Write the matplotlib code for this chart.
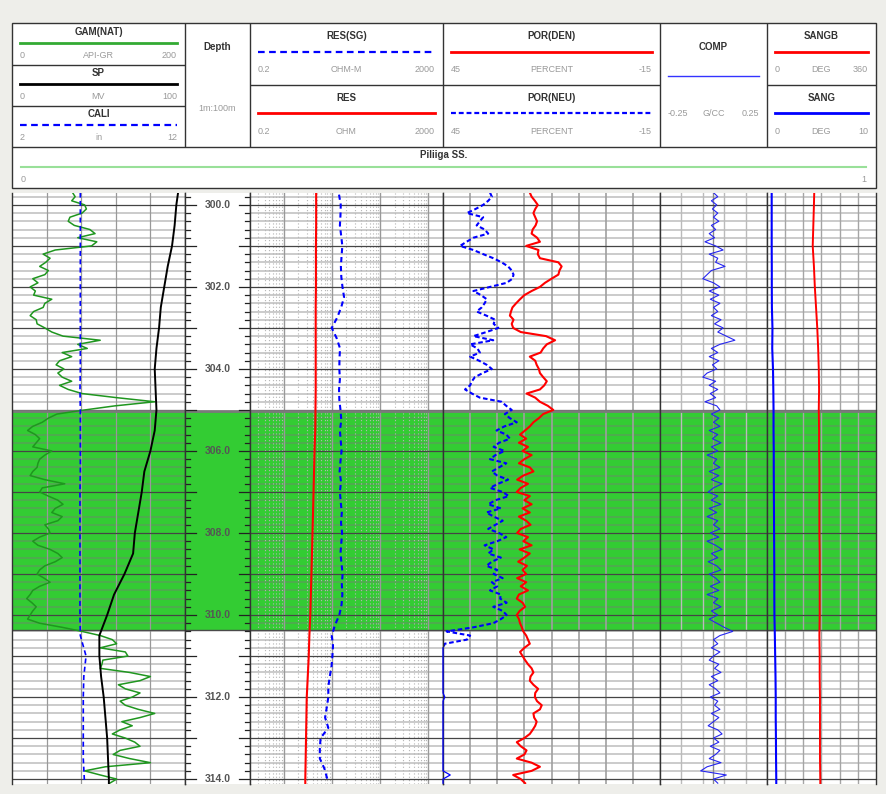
import numpy as np
import matplotlib
matplotlib.use("Agg")
import matplotlib.pyplot as plt
from matplotlib.patches import Rectangle

plt.rcParams['font.family'] = ['Liberation Sans', 'DejaVu Sans']

# ---------------- data ----------------
DEPTH = np.round(np.arange(299.7, 314.15, 0.1), 1)          # fine sampling (m)
DEPTH_C = [299.7, 300.0, 300.5, 301.0, 301.5, 302.0, 302.5, 303.0, 303.5, 304.0,
           304.5, 305.0, 305.5, 306.0, 306.5, 307.0, 307.5, 308.0, 308.5, 309.0,
           309.5, 310.0, 310.5, 311.0, 311.5, 312.0, 312.5, 313.0, 313.5, 314.0, 314.1]
DEPTH_M = np.round(np.arange(299.75, 314.01, 0.25), 2)

GR = [70, 73, 69, 84, 86, 81, 67, 65, 72, 90,
      96, 76, 98, 92, 50, 36, 44, 39, 32, 42,
      38, 24, 30, 21, 27, 25, 46, 38, 36, 25,
      21, 28, 29, 38, 46, 59, 102, 76, 87, 58,
      69, 55, 51, 60, 53, 58, 69, 55, 65, 81,
      121, 165, 119, 84, 52, 42, 35, 24, 18, 27,
      32, 28, 24, 46, 38, 32, 30, 29, 24, 21,
      38, 61, 35, 32, 42, 53, 59, 50, 46, 58,
      53, 38, 42, 44, 32, 24, 30, 44, 53, 58,
      50, 38, 32, 29, 37, 44, 32, 24, 21, 17,
      23, 28, 24, 21, 18, 32, 58, 81, 102, 116,
      121, 102, 131, 134, 105, 104, 102, 136, 160, 148,
      123, 131, 148, 139, 125, 131, 146, 165, 148, 127,
      139, 125, 116, 131, 142, 148, 125, 117, 136, 160,
      108, 84, 102, 121, 113]

SP = [96, 95, 94, 92.5, 90, 88, 86, 85, 83.5, 82.5, 83, 83.5, 82.5, 80, 76.5, 75,
      73, 71, 70, 65, 59, 55, 50.5, 50.5, 51.5, 53, 54, 55, 55.5, 56, 56]

CALI = [5.95, 5.95, 5.95, 5.95, 5.95, 5.95, 5.95, 5.95, 5.95, 5.95, 5.93, 5.95, 5.95,
        5.95, 5.95, 5.93, 5.93, 5.93, 5.93, 5.93, 5.93, 5.93, 5.95, 6.28, 6.15, 6.12,
        6.12, 6.12, 6.12, 6.18, 6.15]

RES = [4.7, 4.7, 4.7, 4.65, 4.65, 4.65, 4.6, 4.6, 4.6, 4.6, 4.6, 4.55, 4.5, 4.35,
       4.25, 4.15, 4.05, 3.95, 3.85, 3.75, 3.65, 3.55, 3.4, 3.3, 3.15, 3.0, 2.95,
       2.9, 2.85, 2.8, 2.8]

RES_SG = [14.0, 15.2, 15.0, 14.6, 15.5, 16.4, 15.8, 15.3, 15.6, 16.5,
          17.8, 15.5, 12.8, 9.9, 12.5, 14.7, 14.3, 14.2, 14.6, 14.0,
          14.2, 15.0, 15.6, 14.6, 15.2, 15.8, 15.0, 14.4, 15.4, 14.6,
          15.2, 16.0, 15.4, 16.2, 15.6, 15.0, 15.8, 16.6, 16.0, 16.4,
          15.8, 14.2, 11.5, 9.9, 10.5, 10.2, 9.8, 9.0, 8.4, 8.4,
          7.8, 7.2, 8.4, 5.8, 5.6, 5.6, 7.0, 8.0]

POR_DEN = [21.0, 20.5, 19.6, 18.8, 19.5, 20.0, 19.5, 19.0, 19.4, 20.2,
           20.5, 19.0, 18.2, 22.0, 18.6, 18.8, 18.2, 13.1, 12.2, 12.8,
           13.1, 15.0, 16.8, 18.2, 20.5, 22.5, 23.7, 24.8, 25.8, 26.2,
           26.5, 25.5, 26.0, 25.6, 23.5, 16.5, 14.0, 16.3, 17.3, 18.0,
           21.0, 19.5, 19.1, 18.5, 18.2, 17.3, 16.3, 17.0, 18.2, 21.9,
           19.5, 18.2, 16.0, 14.5, 17.3, 18.5, 20.0, 21.0, 22.3, 23.7,
           22.0, 24.0, 21.5, 23.0, 20.5, 22.5, 24.0, 21.0, 20.0, 22.8,
           24.5, 21.5, 23.5, 24.6, 21.0, 22.5, 20.5, 23.0, 21.0, 24.0,
           22.0, 20.8, 23.5, 24.5, 21.5, 22.8, 20.5, 23.8, 21.0, 22.5,
           24.2, 21.8, 23.0, 22.0, 24.5, 22.0, 23.5, 21.5, 24.0, 24.6,
           23.0, 22.3, 23.8, 24.6, 24.0, 23.7, 23.2, 22.8, 22.0, 21.5,
           21.0, 22.5, 23.7, 23.0, 22.3, 21.5, 20.5, 20.0, 20.8, 21.0,
           20.0, 18.7, 19.5, 19.6, 19.0, 17.7, 18.2, 20.0, 19.8, 19.1,
           19.5, 20.2, 21.0, 22.5, 24.6, 23.5, 21.9, 22.5, 24.6, 20.5,
           18.2, 20.5, 25.6, 23.5, 22.3]

POR_NEU = [32.0, 31.5, 32.5, 33.9, 36.0, 38.4, 33.9, 34.8, 35.7, 33.5,
           32.5, 36.6, 38.5, 40.3, 36.6, 33.9, 31.1, 28.8, 27.0, 26.0,
           25.5, 25.8, 27.4, 32.0, 36.6, 34.5, 32.9, 33.5, 34.3, 35.7,
           33.0, 30.6, 31.0, 29.7, 33.0, 36.6, 31.1, 37.5, 35.5, 34.8,
           37.5, 35.0, 32.9, 31.5, 34.0, 36.2, 37.0, 37.5, 38.9, 37.0,
           34.8, 28.8, 27.5, 26.0, 27.9, 26.5, 24.6, 28.0, 30.2, 27.5,
           26.5, 29.5, 31.0, 28.0, 30.5, 32.0, 27.5, 29.5, 31.5, 30.0,
           27.0, 29.8, 32.0, 28.5, 26.8, 30.5, 32.5, 29.0, 33.0, 31.0,
           28.5, 30.5, 32.5, 29.5, 27.5, 30.0, 33.5, 31.0, 32.5, 29.0,
           31.5, 33.0, 30.0, 31.0, 28.5, 31.5, 30.0, 32.0, 29.0, 29.2,
           27.4, 31.1, 28.5, 27.4, 29.0, 31.1, 36.6, 44.0, 37.5, 38.4,
           44.5, 45.0, 45.0, 45.0, 45.0, 45.0, 45.0, 45.0, 45.0, 45.0,
           45.0, 45.0, 45.0, 44.5, 45.0, 45.0, 45.0, 45.0, 45.0, 45.0,
           45.0, 45.0, 45.0, 45.0, 45.0, 45.0, 45.0, 45.0, 45.0, 45.0,
           45.0, 45.0, 43.0, 45.0, 45.0]

COMP = [0.00, 0.02, -0.01, 0.015, -0.005, 0.02, 0.00, 0.025, -0.01, 0.01,
        -0.02, 0.005, -0.04, 0.01, 0.045, -0.02, 0.02, 0.01, 0.054, -0.01,
        -0.03, -0.05, 0.00, 0.03, -0.02, 0.025, -0.015, 0.03, 0.00, 0.02,
        -0.01, 0.035, 0.005, 0.045, 0.02, 0.06, 0.10, 0.03, -0.01, 0.02,
        -0.02, 0.025, -0.005, 0.015, -0.03, -0.05, 0.01, -0.02, 0.02, -0.015,
        0.01, -0.04, 0.015, 0.03, -0.01, 0.025, 0.00, 0.03, -0.02, 0.02,
        -0.005, 0.035, -0.01, 0.02, -0.03, 0.015, 0.00, 0.03, -0.02, 0.025,
        -0.01, 0.04, 0.00, -0.025, 0.02, -0.01, 0.035, -0.02, 0.015, -0.03,
        0.02, 0.00, 0.03, -0.015, 0.025, -0.03, 0.01, 0.04, -0.01, 0.02,
        -0.025, 0.015, 0.035, -0.02, 0.01, 0.03, -0.015, 0.025, -0.03, 0.02,
        0.00, 0.035, -0.01, 0.02, -0.02, 0.015, 0.05, 0.09, 0.03, 0.00,
        0.02, -0.01, 0.03, 0.00, -0.02, 0.025, 0.005, 0.035, -0.01, 0.02,
        -0.02, 0.01, 0.03, -0.015, 0.02, 0.005, 0.03, -0.01, 0.025, 0.00,
        -0.025, 0.02, 0.04, 0.00, 0.025, -0.015, 0.03, 0.01, -0.02, 0.035,
        -0.03, -0.06, 0.06, 0.00, 0.02]

SANG = [0.43, 0.43, 0.43, 0.43, 0.44, 0.44, 0.45, 0.5, 0.48, 0.55, 0.58, 0.6, 0.6,
        0.62, 0.62, 0.63, 0.64, 0.65, 0.66, 0.67, 0.67, 0.68, 0.72, 0.75, 0.78, 0.8,
        0.8, 0.82, 0.83, 0.85, 0.85]

SANGB = [156, 155, 153, 151, 155, 158, 162, 166, 169, 171, 172, 171, 172, 172, 173,
         173, 173, 173, 174, 174, 174, 174, 173, 174, 174, 175, 175, 175, 175, 176, 176]

ZONE_TOP, ZONE_BOTTOM = 305.02, 310.37
ZONE_NAME = "Piliiga SS."
DEPTH_LABELS = [300, 302, 304, 306, 308, 310, 312, 314]

# ---------------- styling ----------------
W, H = 887, 794
FILL = '#33CC33'
EDGE = '#333333'
TITLE_C = '#333333'
LAB_C = '#9a9a9a'
D_TOP, D_BOT = 299.71, 314.12
LOG_Y0, LOG_Y1 = 193, 784

fig = plt.figure(figsize=(W / 100, H / 100), dpi=100)
fig.patch.set_facecolor('#EEEEEA')

MINOR = [d for d in np.round(np.arange(299.8, 314.11, 0.2), 1) if abs(d - round(d)) > 1e-6]
MAJOR = list(range(300, 315))


def add_ax(x0, x1, y0=LOG_Y0, y1=LOG_Y1):
    return fig.add_axes([x0 / W, 1 - y1 / H, (x1 - x0) / W, (y1 - y0) / H])


def setup_track(ax, grid=True):
    ax.set_ylim(D_BOT, D_TOP)
    ax.set_facecolor('white')
    ax.set_xticks([])
    ax.set_yticks([])
    ax.minorticks_off()
    for s in ['top', 'bottom']:
        ax.spines[s].set_visible(False)
    for s in ['left', 'right']:
        ax.spines[s].set_color(EDGE)
        ax.spines[s].set_linewidth(1.0)
        ax.spines[s].set_zorder(4)
    ax.axhspan(ZONE_TOP, ZONE_BOTTOM, color=FILL, lw=0, zorder=0.5)
    if grid:
        for d in MINOR:
            ax.axhline(d, color='#7a7a7a', alpha=0.42, lw=1.3, zorder=1)
        for d in MAJOR:
            ax.axhline(d, color='#454545', lw=0.9, zorder=1.1)
    ax.axhline(ZONE_TOP, color='#7a7a7a', lw=2.0, zorder=1.2)
    ax.axhline(ZONE_BOTTOM, color='#4a4a4a', lw=1.0, zorder=1.2)


def vgrid(ax, xs, color='#9a9a9a', lw=1.0, ls='-'):
    for x in xs:
        ax.axvline(x, color=color, lw=lw, ls=ls, zorder=1.05)


def twin(ax, lim):
    t = ax.twiny()
    t.set_xlim(*lim)
    t.set_ylim(D_BOT, D_TOP)
    t.axis('off')
    return t


# ---- Track 1: GR / SP / CALI ----
ax1 = add_ax(12, 185)
setup_track(ax1)
ax1.set_xlim(0, 200)
vgrid(ax1, [40, 80, 120, 160], color='#999999', lw=0.9)
ax1.plot(GR, DEPTH, color='#1F961F', lw=1.1, zorder=3)
ax_sp = twin(ax1, (0, 100))
ax_sp.plot(SP, DEPTH_C, color='black', lw=1.4, zorder=3)
ax_cal = twin(ax1, (2, 12))
ax_cal.plot(CALI, DEPTH_C, color='#0000FF', lw=1.2, ls=(0, (3, 2)), zorder=3)

# ---- Depth track ----
axd = add_ax(185, 250)
setup_track(axd, grid=False)
axd.set_xlim(0, 1)
for d in MINOR + MAJOR:
    L = 0.17 if d in MAJOR else 0.08
    axd.plot([0, L], [d, d], color='#222222', lw=0.9, zorder=3)
    axd.plot([1 - L, 1], [d, d], color='#222222', lw=0.9, zorder=3)
for d in DEPTH_LABELS:
    axd.text(0.5, d, f"{d:.1f}", ha='center', va='center', fontsize=7.5,
             fontweight='bold', color='#555555', zorder=5)

# ---- RES track (log) ----
axr = add_ax(250, 443)
setup_track(axr)
axr.set_xscale('log')
axr.set_xlim(0.2, 2000)
axr.set_xticks([])
axr.minorticks_off()
vgrid(axr, [1, 10, 100, 1000], color='#999999', lw=1.0)
minor_log = [k * dec for dec in [0.1, 1, 10, 100, 1000] for k in range(2, 10)
             if 0.2 < k * dec < 2000]
vgrid(axr, minor_log, color='#b5b5b5', lw=0.8, ls=(0, (1, 2)))
axr.plot(RES, DEPTH_C, color='#FF0000', lw=1.5, zorder=3)
axr.plot(RES_SG, DEPTH_M, color='#0000FF', lw=1.5, ls=(0, (2.5, 1.8)), zorder=3)

# ---- POR track ----
axp = add_ax(443, 660)
setup_track(axp)
axp.set_xlim(45, -15)
vgrid(axp, [45 - 7.5 * k for k in range(1, 8)], color='#9f9f9f', lw=1.2)
axp.plot(POR_DEN, DEPTH, color='#FF0000', lw=1.5, zorder=3)
neu = np.array(POR_NEU)
i0 = int(np.argmax(neu >= 45))
axp.plot(neu[:i0 + 1], DEPTH[:i0 + 1], color='#0000FF', lw=1.5, ls=(0, (2.2, 1.3)), zorder=3)
axp.plot(neu[i0:], DEPTH[i0:], color='#0000FF', lw=0.9, zorder=5, clip_on=False)

# ---- COMP track ----
axc = add_ax(660, 767)
setup_track(axc)
axc.set_xlim(-0.25, 0.25)
vgrid(axc, [-0.15, -0.05, 0.05, 0.15], color='#bbbbbb', lw=1.0)
vgrid(axc, [0.0], color='#8a8a8a', lw=1.0)
axc.plot(COMP, DEPTH, color='#2626F0', lw=0.8, zorder=3)

# ---- SANG / SANGB track ----
axs = add_ax(767, 876)
setup_track(axs)
axs.set_xlim(0, 10)
vgrid(axs, [10 / 6 * k for k in range(1, 6)], color='#a5a5a5', lw=1.0)
axs.plot(SANG, DEPTH_C, color='#0000FF', lw=1.5, zorder=3)
ax_sb = twin(axs, (0, 360))
ax_sb.plot(SANGB, DEPTH_C, color='#FF0000', lw=1.4, zorder=3)

# ---------------- header ----------------
hdr = fig.add_axes([0, 0, 1, 1], zorder=-1)
hdr.set_xlim(0, W)
hdr.set_ylim(H, 0)
hdr.axis('off')
hdr.add_patch(Rectangle((12, 23), 864, 165, facecolor='white', edgecolor=EDGE, lw=1.0))


def hline(x0, x1, y, c=EDGE, lw=1.0):
    hdr.plot([x0, x1], [y, y], color=c, lw=lw, solid_capstyle='butt')


def vline(x, y0, y1, c=EDGE, lw=1.0):
    hdr.plot([x, x], [y0, y1], color=c, lw=lw, solid_capstyle='butt')


for x in [185, 250, 443, 660, 767]:
    vline(x, 23, 147)
hline(12, 876, 147)
hline(12, 185, 64.5)
hline(12, 185, 105.5)
hline(250, 660, 85)
hline(767, 876, 85)


def entry(x0, x1, yt, yl, yb, title, color, ls, lw, left, unit, right, inset=8):
    xc = (x0 + x1) / 2
    hdr.text(xc, yt, title, ha='center', va='center', fontsize=7, fontweight='bold',
             color=TITLE_C)
    hdr.plot([x0 + inset, x1 - inset], [yl, yl], color=color, ls=ls, lw=lw)
    hdr.text(x0 + inset, yb, left, ha='left', va='center', fontsize=6.5, color=LAB_C)
    hdr.text(xc, yb, unit, ha='center', va='center', fontsize=6.5, color=LAB_C)
    hdr.text(x1 - inset, yb, right, ha='right', va='center', fontsize=6.5, color=LAB_C)


entry(12, 185, 32, 42.7, 55, 'GAM(NAT)', '#33AA33', '-', 2.0, '0', 'API-GR', '200')
entry(12, 185, 72.7, 84.3, 96.7, 'SP', 'black', '-', 2.0, '0', 'MV', '100')
entry(12, 185, 114, 125.3, 137.7, 'CALI', '#0000FF', (0, (3, 2)), 1.6, '2', 'in', '12')
entry(250, 443, 36, 51.7, 70, 'RES(SG)', '#0000FF', (0, (3, 2)), 1.6, '0.2', 'OHM-M', '2000')
entry(250, 443, 97.7, 113.3, 131.7, 'RES', '#FF0000', '-', 2.0, '0.2', 'OHM', '2000')
entry(443, 660, 36, 51.7, 70, 'POR(DEN)', '#FF0000', '-', 2.0, '45', 'PERCENT', '-15')
entry(443, 660, 98.3, 113.3, 131.7, 'POR(NEU)', '#0000FF', (0, (2.2, 1.3)), 1.6,
      '45', 'PERCENT', '-15')
entry(660, 767, 46.7, 76, 113.3, 'COMP', '#3333FF', '-', 1.0, '-0.25', 'G/CC', '0.25')
entry(767, 876, 36, 51.7, 70, 'SANGB', '#FF0000', '-', 2.0, '0', 'DEG', '360')
entry(767, 876, 98.3, 113.3, 131.7, 'SANG', '#0000FF', '-', 2.0, '0', 'DEG', '10')

hdr.text(217, 46.7, 'Depth', ha='center', va='center', fontsize=7, fontweight='bold',
         color=TITLE_C)
hdr.text(217, 108.3, '1m:100m', ha='center', va='center', fontsize=6.5, color=LAB_C)

hdr.text(444, 155.5, ZONE_NAME, ha='center', va='center', fontsize=7, fontweight='bold',
         color=TITLE_C)
hdr.plot([20.7, 866], [167.3, 167.3], color='#99E099', lw=1.5)
hdr.text(20.7, 179, '0', ha='left', va='center', fontsize=6.5, color=LAB_C)
hdr.text(866, 179, '1', ha='right', va='center', fontsize=6.5, color=LAB_C)

fig.savefig('out.png', dpi=100, facecolor=fig.get_facecolor())
